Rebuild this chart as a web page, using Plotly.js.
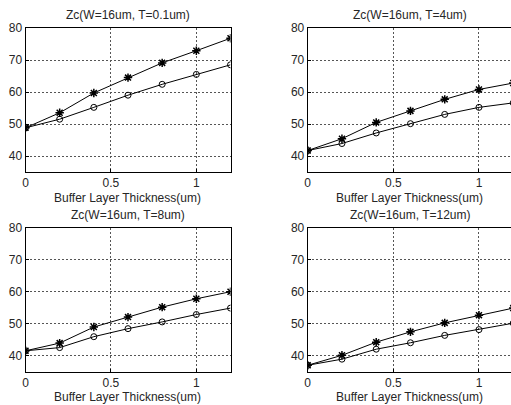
<!DOCTYPE html>
<html>
<head>
<meta charset="utf-8">
<script src="https://cdn.plot.ly/plotly-3.0.1.min.js"></script>
<style>html,body{margin:0;padding:0;background:#fff;}#chart{width:511px;height:405px;}</style>
</head>
<body>
<div id="chart"></div>
<script>
// Buffer layer thickness (um)
var thickness = [0, 0.2, 0.4, 0.6, 0.8, 1.0, 1.2];

// Zc values, T = 0.1um
var t01Star   = [48.8, 53.5, 59.7, 64.5, 69.1, 72.9, 76.8];
var t01Circle = [48.8, 51.5, 55.2, 59.0, 62.4, 65.5, 68.5];
// T = 4um
var t4Star    = [41.7, 45.4, 50.5, 54.1, 57.7, 60.8, 62.8];
var t4Circle  = [41.7, 43.9, 47.2, 50.1, 53.0, 55.2, 56.6];
// T = 8um
var t8Star    = [41.6, 44.0, 49.0, 52.1, 55.2, 57.8, 60.0];
var t8Circle  = [41.6, 42.6, 46.0, 48.5, 50.6, 52.9, 54.9];
// T = 12um
var t12Star   = [37.1, 40.2, 44.3, 47.5, 50.3, 52.7, 54.9];
var t12Circle = [37.1, 39.0, 42.1, 44.1, 46.4, 48.2, 50.2];

var titles = ["Zc(W=16um, T=0.1um)", "Zc(W=16um, T=4um)", "Zc(W=16um, T=8um)", "Zc(W=16um, T=12um)"];
var xLabel = "Buffer Layer Thickness(um)";
var xTicks = [0, 0.5, 1];
var xTickText = ["0", "0.5", "1"];
var yTicks = [40, 50, 60, 70, 80];

var W = 511, H = 405;
var FONT = "Liberation Sans, Arial, sans-serif";
var TXT = '#262626';
var series = [[t01Star, t01Circle], [t4Star, t4Circle], [t8Star, t8Circle], [t12Star, t12Circle]];

var traces = [];
series.forEach(function (s, i) {
  var xa = i === 0 ? 'x' : 'x' + (i + 1);
  var ya = i === 0 ? 'y' : 'y' + (i + 1);
  traces.push({x: thickness, y: s[0], xaxis: xa, yaxis: ya, type: 'scatter', mode: 'lines+markers',
    line: {color: '#000', width: 1}, marker: {symbol: 'asterisk-open', size: 7, color: '#000', line: {color: '#000', width: 1.5}}});
  traces.push({x: thickness, y: s[1], xaxis: xa, yaxis: ya, type: 'scatter', mode: 'lines+markers',
    line: {color: '#000', width: 1}, marker: {symbol: 'circle-open', size: 6, color: '#000', line: {color: '#000', width: 1}}});
});

function px2x(p) { return p / W; }
function px2y(p) { return 1 - p / H; }

var xDomL = [px2x(25.5), px2x(230.5)], xDomR = [px2x(307.7), 1];
var yDomT = [px2y(172), px2y(28)], yDomB = [px2y(372), px2y(227.5)];

function xAxis(dom, range, anchor, mirror) {
  return {domain: dom, range: range, anchor: anchor, tickvals: xTicks, ticktext: xTickText,
    showgrid: true, gridcolor: '#555', griddash: '2px,2px', gridwidth: 1,
    showline: true, linecolor: '#000', linewidth: 1, mirror: mirror,
    ticks: 'inside', ticklen: 3, tickcolor: '#000', zeroline: false,
    tickfont: {family: FONT, size: 12, color: TXT}, fixedrange: true};
}
function yAxis(dom, anchor, mirror) {
  return {domain: dom, range: [35, 80], anchor: anchor, tickvals: yTicks,
    showgrid: true, gridcolor: '#555', griddash: '2px,2px', gridwidth: 1,
    showline: true, linecolor: '#000', linewidth: 1, mirror: mirror,
    ticks: 'inside', ticklen: 3, tickcolor: '#000', zeroline: false,
    tickfont: {family: FONT, size: 12, color: TXT}, fixedrange: true};
}

var rR = [0, 1.187];
var layout = {
  width: W, height: H, margin: {l: 0, r: 0, t: 0, b: 0},
  paper_bgcolor: '#fff', plot_bgcolor: '#fff', showlegend: false,
  font: {family: FONT, size: 12, color: TXT},
  xaxis: xAxis(xDomL, [0, 1.2], 'y', true),
  yaxis: yAxis(yDomT, 'x', true),
  xaxis2: xAxis(xDomR, rR, 'y2', true),
  yaxis2: yAxis(yDomT, 'x2', false),
  xaxis3: xAxis(xDomL, [0, 1.2], 'y3', true),
  yaxis3: yAxis(yDomB, 'x3', true),
  xaxis4: xAxis(xDomR, rR, 'y4', true),
  yaxis4: yAxis(yDomB, 'x4', false),
  annotations: []
};

var centersX = [127.5, 409.5, 127.5, 409.5];
var titleY = [15, 15, 214.5, 214.5];
var labelY = [198, 198, 396.5, 396.5];
for (var i = 0; i < 4; i++) {
  layout.annotations.push({text: titles[i], xref: 'paper', yref: 'paper', x: px2x(centersX[i]), y: px2y(titleY[i]),
    xanchor: 'center', yanchor: 'middle', showarrow: false, font: {family: FONT, size: 12, color: TXT}});
  layout.annotations.push({text: xLabel, xref: 'paper', yref: 'paper', x: px2x(centersX[i]), y: px2y(labelY[i]),
    xanchor: 'center', yanchor: 'middle', showarrow: false, font: {family: FONT, size: 12, color: TXT}});
}

Plotly.newPlot('chart', traces, layout, {displayModeBar: false, staticPlot: true});
</script>
</body>
</html>
